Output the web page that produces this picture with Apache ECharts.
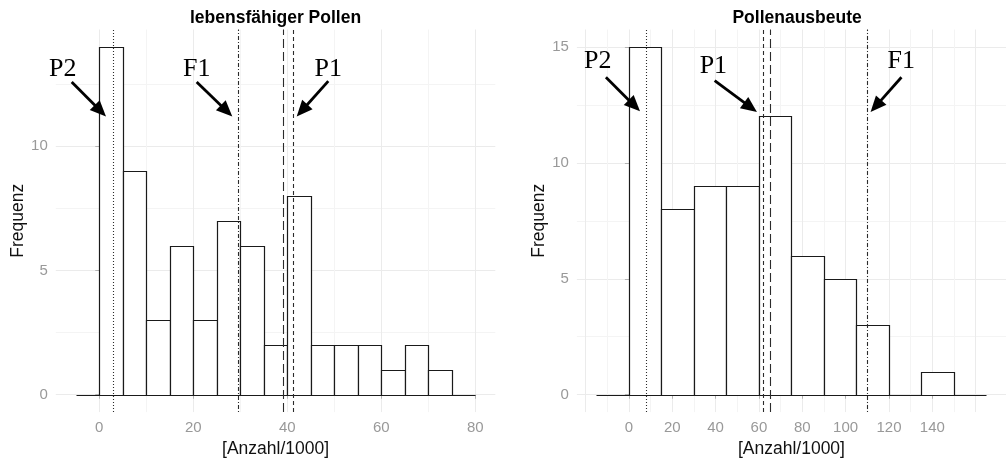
<!DOCTYPE html>
<html>
<head>
<meta charset="utf-8">
<script src="https://cdn.jsdelivr.net/npm/echarts@6/dist/echarts.min.js"></script>
<style>
html,body{margin:0;padding:0;background:#fff;}
#chart{width:1006px;height:463px;}
</style>
</head>
<body>
<div id="chart"></div>
<script>
// ---------------- data ----------------
const leftTitle = 'lebensfähiger Pollen';
const rightTitle = 'Pollenausbeute';
const xAxisTitle = '[Anzahl/1000]';
const yAxisTitle = 'Frequenz';

// histogram bins (start of bin) and counts
const leftBinWidth = 5;
const leftBinStarts = [-5, 0, 5, 10, 15, 20, 25, 30, 35, 40, 45, 50, 55, 60, 65, 70, 75];
const leftCounts    = [ 0, 14, 9, 3, 6, 3, 7, 6, 2, 8, 2, 2, 2, 1, 2, 1, 0];

const rightBinWidth = 15;
const rightBinStarts = [-15, 0, 15, 30, 45, 60, 75, 90, 105, 120, 135, 150];
const rightCounts    = [  0, 15, 8, 9, 9, 12, 6, 5, 3, 0, 1, 0];

// vertical reference lines
const leftRefValues = [3, 29.5, 39.2, 41.2];
const leftRefTypes  = ['dotted', 'dotdash', 'longdash', 'dashed'];
const rightRefValues = [8, 62.2, 65.4, 110.2];
const rightRefTypes  = ['dotted', 'dashed', 'longdash', 'dotdash'];

// axis ranges, tick labels and grid-line values
const leftXRange = [-9.25, 84.25];
const leftYRange = [-0.7, 14.7];
const rightXRange = [-24, 174];
const rightYRange = [-0.75, 15.75];

const leftXTicks = [0, 20, 40, 60, 80];
const leftXGrid  = [0, 10, 20, 30, 40, 50, 60, 70, 80];
const leftYTicks = [0, 5, 10];
const leftYGrid  = [0, 2.5, 5, 7.5, 10, 12.5];
const rightXTicks = [0, 20, 40, 60, 80, 100, 120, 140];
const rightXGrid  = [-20, -10, 0, 10, 20, 30, 40, 50, 60, 70, 80, 90, 100, 110, 120, 130, 140, 150, 160];
const rightYTicks = [0, 5, 10, 15];
const rightYGrid  = [0, 2.5, 5, 7.5, 10, 12.5, 15];

// annotations (data coordinates)
const leftAnnoText  = ['P2', 'F1', 'P1'];
const leftAnnoX     = [-7.77, 20.72, 48.72];
const leftAnnoY     = [13.12, 13.12, 13.12];
const leftArrowFromX = [-5.87, 20.72, 48.72];
const leftArrowFromY = [12.59, 12.59, 12.62];
const leftArrowToX   = [1.43, 28.3, 42.0];
const leftArrowToY   = [11.2, 11.2, 11.2];

const rightAnnoText  = ['P2', 'P1', 'F1'];
const rightAnnoX     = [-14.39, 38.98, 125.63];
const rightAnnoY     = [14.37, 14.19, 14.40];
const rightArrowFromX = [-10.61, 39.57, 125.76];
const rightArrowFromY = [13.69, 13.54, 13.69];
const rightArrowToX   = [5.13, 59.08, 111.51];
const rightArrowToY   = [12.22, 12.19, 12.19];

// ---------------- styling / layout ----------------
const SANS = 'Liberation Sans, Arial, sans-serif';
const SERIF = 'Liberation Serif, Times New Roman, serif';
const gridColors = ['#ebebeb', '#f4f4f4'];
const dashStyles = {
  dotted: [1, 2],
  dashed: [4, 3],
  longdash: [9, 4],
  dotdash: [1, 2, 4, 2]
};
const panelTop = 29.5, panelHeight = 385.8;
const panels = [
  {left: 55.8, width: 439.5},
  {left: 576.9, width: 440.4}
];

function hiddenAxis(gridIndex, range, gridVals, position) {
  return {
    type: 'value', gridIndex, min: range[0], max: range[1], position,
    axisLine: {show: false},
    axisTick: {show: false, customValues: gridVals},
    axisLabel: {show: false},
    splitLine: {show: true, lineStyle: {color: gridColors, width: 1}}
  };
}
function labelAxis(gridIndex, range, tickVals, position, name, isY) {
  return {
    type: 'value', gridIndex, min: range[0], max: range[1], position,
    axisLine: {show: false},
    axisTick: {show: true, customValues: tickVals, length: 4, lineStyle: {color: '#b3b3b3', width: 1}},
    axisLabel: {show: true, customValues: tickVals, margin: 8, color: '#999999', fontSize: 15, fontFamily: SANS},
    splitLine: {show: false},
    name: name, nameLocation: 'middle', nameGap: isY ? 27 : 27,
    nameTextStyle: {color: '#111111', fontSize: 17.5, fontFamily: SANS}
  };
}

function barSeries(xi, yi, starts, counts, width) {
  return {
    type: 'custom', xAxisIndex: xi, yAxisIndex: yi, silent: true,
    data: starts.map((s, i) => [s, s + width, counts[i]]),
    encode: {x: [0, 1], y: 2},
    renderItem: function (params, api) {
      const p0 = api.coord([api.value(0), 0]);
      const p1 = api.coord([api.value(1), api.value(2)]);
      const xa = Math.round(p0[0]) + 0.5, xb = Math.round(p1[0]) + 0.5;
      const ya = Math.round(p0[1]) + 0.5, yb = Math.round(p1[1]) + 0.5;
      return {
        type: 'rect',
        shape: {x: xa, y: yb, width: xb - xa, height: ya - yb},
        style: {fill: '#ffffff', stroke: '#1a1a1a', lineWidth: 1.2}
      };
    },
    z: 2
  };
}

function refLineSeries(xi, yi, values, types) {
  return {
    type: 'line', xAxisIndex: xi, yAxisIndex: yi, data: [], silent: true,
    markLine: {
      silent: true, symbol: ['none', 'none'], label: {show: false},
      animation: false,
      data: values.map((v, i) => ({
        xAxis: v,
        lineStyle: {color: '#2b2b2b', width: 1.1, type: dashStyles[types[i]]}
      }))
    },
    z: 3
  };
}

function arrowSeries(xi, yi, fx, fy, tx, ty) {
  return {
    type: 'custom', xAxisIndex: xi, yAxisIndex: yi, silent: true,
    data: fx.map((x, i) => [x, fy[i], tx[i], ty[i]]),
    encode: {x: [0, 2], y: [1, 3]},
    renderItem: function (params, api) {
      const p0 = api.coord([api.value(0), api.value(1)]);
      const p1 = api.coord([api.value(2), api.value(3)]);
      const dx = p1[0] - p0[0], dy = p1[1] - p0[1];
      const len = Math.sqrt(dx * dx + dy * dy);
      const ux = dx / len, uy = dy / len;
      const headLen = 16, headW = 7;
      const bx = p1[0] - ux * headLen, by = p1[1] - uy * headLen;
      return {
        type: 'group',
        children: [
          {type: 'line', shape: {x1: p0[0], y1: p0[1], x2: bx + ux * 2, y2: by + uy * 2},
           style: {stroke: '#000000', lineWidth: 2.8}},
          {type: 'polygon', shape: {points: [[p1[0], p1[1]], [bx - uy * headW, by + ux * headW], [bx + uy * headW, by - ux * headW]]},
           style: {fill: '#000000'}}
        ]
      };
    },
    z: 5
  };
}

function textSeries(xi, yi, xs, ys, texts) {
  return {
    type: 'custom', xAxisIndex: xi, yAxisIndex: yi, silent: true,
    data: xs.map((x, i) => [x, ys[i]]),
    encode: {x: 0, y: 1},
    renderItem: function (params, api) {
      const p = api.coord([api.value(0), api.value(1)]);
      return {
        type: 'text', x: p[0], y: p[1],
        style: {text: texts[params.dataIndex], fill: '#000000', fontSize: 26, fontFamily: SERIF,
                align: 'center', verticalAlign: 'middle'}
      };
    },
    z: 5
  };
}

const option = {
  animation: false,
  backgroundColor: '#ffffff',
  title: [
    {text: leftTitle, left: panels[0].left + panels[0].width / 2, top: 9.5, padding: 0, textAlign: 'center',
     textStyle: {fontSize: 17.5, fontWeight: 'bold', fontFamily: SANS, color: '#000000'}},
    {text: rightTitle, left: panels[1].left + panels[1].width / 2, top: 9.5, padding: 0, textAlign: 'center',
     textStyle: {fontSize: 17.5, fontWeight: 'bold', fontFamily: SANS, color: '#000000'}}
  ],
  grid: panels.map(p => ({left: p.left, top: panelTop, width: p.width, height: panelHeight, containLabel: false})),
  xAxis: [
    hiddenAxis(0, leftXRange, leftXGrid, 'top'),
    labelAxis(0, leftXRange, leftXTicks, 'bottom', xAxisTitle, false),
    hiddenAxis(1, rightXRange, rightXGrid, 'top'),
    labelAxis(1, rightXRange, rightXTicks, 'bottom', xAxisTitle, false)
  ],
  yAxis: [
    hiddenAxis(0, leftYRange, leftYGrid, 'right'),
    labelAxis(0, leftYRange, leftYTicks, 'left', yAxisTitle, true),
    hiddenAxis(1, rightYRange, rightYGrid, 'right'),
    labelAxis(1, rightYRange, rightYTicks, 'left', yAxisTitle, true)
  ],
  series: [
    barSeries(0, 0, leftBinStarts, leftCounts, leftBinWidth),
    refLineSeries(0, 0, leftRefValues, leftRefTypes),
    arrowSeries(0, 0, leftArrowFromX, leftArrowFromY, leftArrowToX, leftArrowToY),
    textSeries(0, 0, leftAnnoX, leftAnnoY, leftAnnoText),
    barSeries(2, 2, rightBinStarts, rightCounts, rightBinWidth),
    refLineSeries(2, 2, rightRefValues, rightRefTypes),
    arrowSeries(2, 2, rightArrowFromX, rightArrowFromY, rightArrowToX, rightArrowToY),
    textSeries(2, 2, rightAnnoX, rightAnnoY, rightAnnoText)
  ]
};

const chart = echarts.init(document.getElementById('chart'), null, {renderer: 'canvas'});
chart.setOption(option);
</script>
</body>
</html>
